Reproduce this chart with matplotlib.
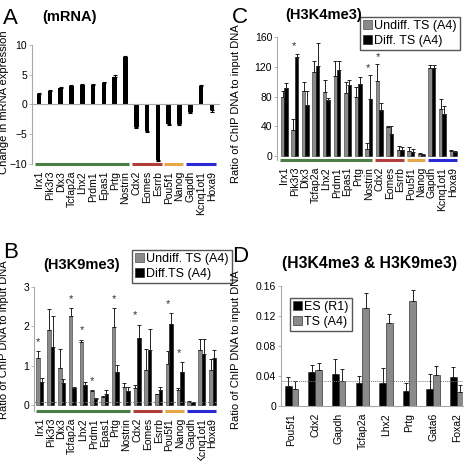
import numpy as np
import matplotlib
matplotlib.use("Agg")
from matplotlib import pyplot as plt

plt.rcParams["font.family"] = ["Liberation Sans", "DejaVu Sans"]

W, H = 467, 461

geni = ["Irx1", "Pik3r3", "Dlx3", "Tcfap2a", "Lhx2", "Prdm1", "Epas1", "Prtg", "Nostrin",
        "Cdx2", "Eomes", "Esrrb", "Pou5f1", "Nanog", "Gapdh", "Kcnq1ot1", "Hoxa9"]
# grupe gena (pocetak, kraj, boja linije ispod)
grupe = [(0, 8, "#4c7d46"), (9, 11, "#b23b3b"), (12, 13, "#e6a84a"), (14, 16, "#2a2ad2")]

# A - mRNA
mrna = [1.8, 2.3, 2.8, 3.1, 3.2, 3.3, 3.6, 4.7, 7.9, -3.8, -4.4, -9.3, -3.2, -3.3, -1.3, 3.1, -1.0]
mrna_err = [0.2] * 17

# C - H3K4me3
k4_undiff = [80, 35, 88, 113, 86, 108, 85, 79, 10, 101, 39, 8, 7, 3, 119, 63, 7]
k4_undiff_err = [8, 15, 12, 15, 17, 20, 15, 14, 8, 23, 1, 6, 5, 1, 3, 14, 0.5]
k4_diff = [92, 134, 69, 121, 75, 116, 96, 97, 77, 62, 30, 8, 6, 2, 119, 56, 6]
k4_diff_err = [7, 4, 18, 31, 3, 12, 7, 9, 32, 9, 11, 4, 3, 0.5, 3, 12, 0.5]
k4_zvezde = [1, 8, 9]

# B - H3K9me3
k9_undiff = [1.19, 1.92, 0.94, 2.26, 1.60, 0.37, 0.21, 1.99, 0.46, 0.43, 0.89, 0.28, 1.04, 0.38, 0.10, 1.40, 0.89]
k9_undiff_err = [0.20, 0.53, 0.50, 0.21, 0.07, 0.01, 0.04, 0.48, 0.12, 0.10, 0.55, 0.02, 0.33, 0.06, 0.01, 0.29, 0.29]
k9_diff = [0.59, 1.47, 0.56, 0.45, 0.51, 0.17, 0.30, 0.86, 0.36, 1.70, 1.41, 0.39, 2.07, 0.85, 0.08, 1.30, 1.20]
k9_diff_err = [0.10, 0.80, 0.10, 0.02, 0.08, 0.01, 0.10, 0.16, 0.10, 0.35, 0.53, 0.07, 0.28, 0.26, 0.01, 0.39, 0.21]
k9_zvezde = [0, 3, 4, 5, 7, 9, 12, 13]
k9_prag = 0.08

# D - H3K4me3 & H3K9me3
geni_d = ["Pou5f1", "Cdx2", "Gapdh", "Tcfap2a", "Lhx2", "Prtg", "Gata6", "Foxa2"]
es = [0.027, 0.045, 0.043, 0.030, 0.030, 0.020, 0.023, 0.039]
es_err = [0.011, 0.010, 0.019, 0.010, 0.020, 0.010, 0.019, 0.013]
ts = [0.023, 0.048, 0.033, 0.130, 0.111, 0.140, 0.041, 0.018]
ts_err = [0.010, 0.009, 0.016, 0.020, 0.012, 0.014, 0.012, 0.010]
d_prag = 0.033

SIVA = "#8a8a8a"
OSA = "#a8a8a8"

figura = plt.figure(figsize=(W / 100, H / 100), dpi=100)


def osa(l, t, r, b):
    return figura.add_axes([l / W, 1 - b / H, (r - l) / W, (b - t) / H])


def stil(ax):
    for s in ["top", "right", "bottom"]:
        ax.spines[s].set_visible(False)
    ax.spines["left"].set_color(OSA)
    ax.spines["left"].set_linewidth(0.8)
    ax.tick_params(axis="y", length=2, width=0.6, color=OSA, labelsize=7.5, pad=1.5)
    ax.tick_params(axis="x", length=0, labelsize=7.5, pad=5)


def linije(ax, y):
    for s, e, boja in grupe:
        ax.plot([s - 0.4, e + 0.35], [y, y], color=boja, lw=2.2, clip_on=False,
                solid_capstyle="butt")


def parovi(ax, x, v1, e1, v2, e2, c1, c2, w):
    ek = dict(ecolor="#222222", elinewidth=0.7, capsize=1.3, capthick=0.7)
    b1 = ax.bar(x - w / 2, v1, w, color=c1, edgecolor="#333333", linewidth=0.4,
                yerr=[np.zeros(len(v1)), e1], error_kw=ek)
    b2 = ax.bar(x + w / 2, v2, w, color=c2, edgecolor="#111111", linewidth=0.4,
                yerr=[np.zeros(len(v2)), e2], error_kw=ek)
    return b1, b2


def legenda(ax, rucke, labele, loc, xy):
    ax.legend(rucke, labele, loc=loc,
              bbox_to_anchor=(xy[0] / W, 1 - xy[1] / H), bbox_transform=figura.transFigure,
              fontsize=9, fancybox=False, edgecolor="#555555", framealpha=1,
              handlelength=0.7, handleheight=0.7, handletextpad=0.2, borderpad=0.25,
              labelspacing=0.2, borderaxespad=0)


def ylabela(ax, tekst, xl, yc):
    ax.set_ylabel(tekst, fontsize=8)
    ax.yaxis.set_label_coords(xl / W, 1 - yc / H, transform=figura.transFigure)


x = np.arange(len(geni))

# ---- A ----
ax_a = osa(32, 45, 220, 164)
stil(ax_a)
m = np.array(mrna)
me = np.array(mrna_err)
ax_a.bar(x, m, 0.42, color="black",
         yerr=[np.where(m < 0, me, 0), np.where(m > 0, me, 0)],
         error_kw=dict(ecolor="black", elinewidth=0.8, capsize=1.5, capthick=0.8))
ax_a.axhline(0, color=OSA, lw=0.8)
ax_a.set_ylim(-10, 10)
ax_a.set_xlim(-0.65, 16.75)
ax_a.set_yticks([-10, -5, 0, 5, 10])
ax_a.set_xticks(x)
ax_a.set_xticklabels(geni, rotation=90)
linije(ax_a, -10)
ylabela(ax_a, "Change in mRNA expression", 9, 102)
figura.text(3 / W, 1 - 24 / H, "A", fontsize=16)
figura.text(42 / W, 1 - 21 / H, "(mRNA)", fontsize=10.5, fontweight="bold")

# ---- C ----
ax_c = osa(277, 37.3, 460, 160)
stil(ax_c)
bc1, bc2 = parovi(ax_c, x, k4_undiff, k4_undiff_err, k4_diff, k4_diff_err, SIVA, "black", 0.33)
ax_c.set_ylim(-5.4, 160)
ax_c.set_xlim(-0.69, 16.66)
ax_c.set_yticks([0, 40, 80, 120, 160])
ax_c.set_xticks(x)
ax_c.set_xticklabels(geni, rotation=90)
linije(ax_c, -5.4)
for i in k4_zvezde:
    vrh = max(k4_undiff[i] + k4_undiff_err[i], k4_diff[i] + k4_diff_err[i])
    ax_c.text(i - 0.1, vrh + 3, "*", ha="center", va="bottom", fontsize=8, color="#333333")
ylabela(ax_c, "Ratio of ChIP DNA to input DNA", 241, 104)
figura.text(232 / W, 1 - 23 / H, "C", fontsize=16)
figura.text(285 / W, 1 - 19 / H, "(H3K4me3)", fontsize=10.5, fontweight="bold")
legenda(ax_c, [bc1, bc2], ["Undiff. TS (A4)", "Diff. TS (A4)"], "upper right", (460, 17))

# ---- B ----
ax_b = osa(34, 287, 218, 411)
stil(ax_b)
bb1, bb2 = parovi(ax_b, x, k9_undiff, k9_undiff_err, k9_diff, k9_diff_err, SIVA, "black", 0.33)
ax_b.axhline(k9_prag, color="#777777", lw=0.7, ls=(0, (2, 1.5)))
ax_b.set_ylim(-0.14, 3)
ax_b.set_xlim(-0.55, 16.5)
ax_b.set_yticks([0, 1, 2, 3])
ax_b.set_xticks(x)
ax_b.set_xticklabels(geni, rotation=90)
linije(ax_b, -0.14)
for i in k9_zvezde:
    vrh = max(k9_undiff[i] + k9_undiff_err[i], k9_diff[i] + k9_diff_err[i])
    ax_b.text(i - 0.15, vrh + 0.1, "*", ha="center", va="bottom", fontsize=8, color="#333333")
ylabela(ax_b, "Ratio of ChIP DNA to input DNA", 9, 340)
figura.text(3 / W, 1 - 258 / H, "B", fontsize=16)
figura.text(43 / W, 1 - 269 / H, "(H3K9me3)", fontsize=10.5, fontweight="bold")
legenda(ax_b, [bb1, bb2], ["Undiff. TS (A4)", "Diff.TS (A4)"], "upper left", (132, 250))

# ---- D ----
xd = np.arange(len(geni_d))
ax_d = osa(281, 285.7, 463, 406)
stil(ax_d)
ax_d.spines["bottom"].set_visible(True)
ax_d.spines["bottom"].set_color(OSA)
bd1, bd2 = parovi(ax_d, xd, es, es_err, ts, ts_err, "black", SIVA, 0.285)
ax_d.axhline(d_prag, color="#777777", lw=0.7, ls=(0, (1, 1)))
ax_d.set_ylim(0, 0.16)
ax_d.set_xlim(-0.45, 7.27)
ax_d.set_yticks([0, 0.04, 0.08, 0.12, 0.16])
ax_d.set_yticklabels(["0", "0.04", "0.08", "0.12", "0.16"])
ax_d.set_xticks(xd)
ax_d.set_xticklabels(geni_d, rotation=90)
ylabela(ax_d, "Ratio of ChIP DNA to input DNA", 241, 350)
figura.text(232 / W, 1 - 262 / H, "D", fontsize=16)
figura.text(282 / W, 1 - 268 / H, "(H3K4me3 & H3K9me3)", fontsize=11.3, fontweight="bold")
legenda(ax_d, [bd1, bd2], ["ES (R1)", "TS (A4)"], "upper left", (290, 298))

plt.savefig("out.png", dpi=100)
